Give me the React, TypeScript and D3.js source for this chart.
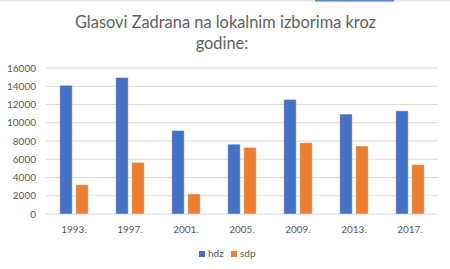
import React from "react";
import * as d3 from "d3";

const categories = ["1993.", "1997.", "2001.", "2005.", "2009.", "2013.", "2017."];
const hdzValues = [14100, 14950, 9150, 7650, 12550, 10950, 11300];
const sdpValues = [3200, 5650, 2200, 7300, 7800, 7450, 5400];
const yTicks = [0, 2000, 4000, 6000, 8000, 10000, 12000, 14000, 16000];
const seriesNames = ["hdz", "sdp"];
const seriesColors = ["#4472C4", "#ED7D31"];
const titleLines = ["Glasovi Zadrana na lokalnim izborima kroz", "godine:"];

const W = 450;
const H = 269;
const FONT = "Lato, 'Open Sans', sans-serif";

export default function App() {
  const x = d3.scaleBand<string>().domain(categories).range([46, 438]).padding(0);
  const y = d3.scaleLinear().domain([0, 16000]).range([214, 68]);
  const barW = 12.4;
  const gap = 3.6;
  const series = [hdzValues, sdpValues];

  return (
    <svg
      width={W}
      height={H}
      viewBox={`0 0 ${W} ${H}`}
      style={{ position: "fixed", left: 0, top: 0, background: "#fff" }}
      fontFamily={FONT}
    >
      <rect x={0} y={0} width={W} height={H} fill="#fff" />
      <rect x={0} y={0} width={W} height={1.5} fill="#e3e3e3" />
      <rect x={315} y={0} width={79} height={1.5} fill="#5a86d2" />

      {titleLines.map((t, i) => (
        <text
          key={i}
          x={i === 0 ? 225.5 : 222}
          y={28 + i * 21}
          textAnchor="middle"
          fontSize={16.4}
          fill="#5f5f5f"
        >
          {t}
        </text>
      ))}

      {yTicks.map((t) => (
        <g key={t}>
          <line x1={46} x2={438} y1={y(t)} y2={y(t)} stroke="#d9d9d9" strokeWidth={1} />
          <text x={36} y={y(t) + 3.6} textAnchor="end" fontSize={10} fill="#595959">
            {t}
          </text>
        </g>
      ))}

      {categories.map((c, ci) => {
        const cx = (x(c) as number) + x.bandwidth() / 2;
        return (
          <g key={c}>
            {series.map((vals, si) => {
              const bx = si === 0 ? cx - gap / 2 - barW : cx + gap / 2;
              return (
                <rect
                  key={si}
                  x={bx}
                  y={y(vals[ci])}
                  width={barW}
                  height={y(0) - y(vals[ci])}
                  fill={seriesColors[si]}
                  stroke="#ffffff"
                  strokeOpacity={0.5}
                  strokeWidth={0.8}
                />
              );
            })}
            <text x={cx} y={232.5} textAnchor="middle" fontSize={10} fill="#595959">
              {c}
            </text>
          </g>
        );
      })}

      {seriesNames.map((n, i) => {
        const lx = i === 0 ? 199 : 231;
        return (
          <g key={n}>
            <rect x={lx} y={251} width={6} height={6} fill={seriesColors[i]} />
            <text x={lx + 9} y={257.3} fontSize={10} fill="#595959">
              {n}
            </text>
          </g>
        );
      })}
    </svg>
  );
}
